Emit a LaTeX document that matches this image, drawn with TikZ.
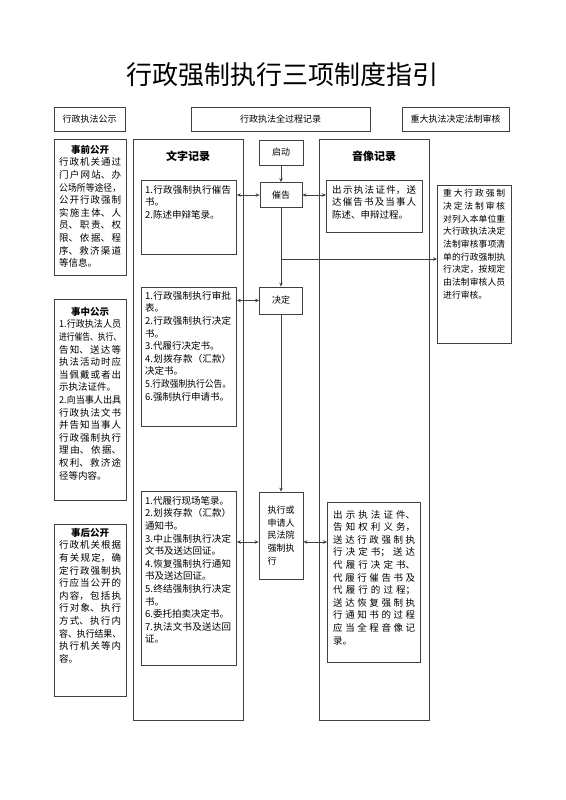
\documentclass[tikz,border=0pt]{standalone}
\usepackage{fontspec}
\setmainfont{Noto Sans CJK SC}
\usepackage{graphicx}
\usetikzlibrary{arrows.meta}
\XeTeXlinebreaklocale "zh"
\XeTeXlinebreakskip=0pt plus 1pt minus 0.3pt
\hbadness=10000
\colorlet{lineGray}{black!75}
\newcommand\jbr{\linebreak}
\newcommand\lbr{\newline}
\newcommand\sqz[1]{\resizebox{\linewidth}{\height}{#1}}

\begin{document}
\begin{tikzpicture}[x=1pt, y=-1pt, font=\fontsize{9.5}{12.6}\selectfont,
    box/.style={draw=lineGray, line width=0.8pt, inner sep=0pt},
    frame/.style 2 args={box, anchor=north west, minimum width=#1, minimum height=#2},
    txt/.style={inner sep=0pt, anchor=north west, align=justify},
    small/.style={font=\fontsize{9}{11}\selectfont},
    arr/.style={-{Stealth[length=4pt,width=3.5pt]}, draw=lineGray, line width=0.7pt},
    dbl/.style={{Stealth[length=4pt,width=3.5pt]}-{Stealth[length=4pt,width=3.5pt]}, draw=lineGray, line width=0.7pt}]
		\fill[white] (0,0) rectangle (565,800);
		\useasboundingbox (0,0) rectangle (565,800);
		%%%%%%%%%%%%%
		\node[font=\fontsize{26}{30}\selectfont] (title) at (282.5,75) {行政强制执行三项制度指引};
		\node[box, small, minimum width=71, minimum height=24] (pub) at (89.5,119) {行政执法公示};
		\node[box, small, minimum width=179, minimum height=24] (rec) at (280.5,119) {行政执法全过程记录};
		\node[box, small, minimum width=107, minimum height=24] (rev) at (455.5,119) {重大执法决定法制审核};
		%%%%%%%%%%%%%
		\node[frame={72}{136}] (sq) at (54,139) {};
		\node[txt, text width=62] (sqt) at ([shift={(5,6)}]sq.north west) {{\centering\bfseries 事前公开\par}
行政机关通过\jbr
门户网站、办\jbr
\sqz{公场所等途径，}\jbr
公开行政强制\jbr
实施主体、人\jbr
员、职责、权\jbr
限、依据、程\jbr
序、救济渠道\jbr
等信息。};
		\node[frame={72}{201}] (sz) at (54,299) {};
		\node[txt, text width=62] (szt) at ([shift={(5,8)}]sz.north west) {{\centering\bfseries 事中公示\par}
\sqz{1.行政执法人员}\jbr
\sqz{进行催告、执行、}\jbr
告知、送达等\jbr
执法活动时应\jbr
当佩戴或者出\jbr
示执法证件。\lbr
\sqz{2.向当事人出具}\jbr
行政执法文书\jbr
并告知当事人\jbr
行政强制执行\jbr
理由、依据、\jbr
权利、救济途\jbr
径等内容。};
		\node[frame={72}{172}] (sh) at (54,524) {};
		\node[txt, text width=62] (sht) at ([shift={(5,4)}]sh.north west) {{\centering\bfseries 事后公开\par}
行政机关根据\jbr
有关规定，确\jbr
定行政强制执\jbr
行应当公开的\jbr
内容，包括执\jbr
行对象、执行\jbr
方式、执行内\jbr
\sqz{容、执行结果、}\jbr
执行机关等内\jbr
容。};
		%%%%%%%%%%%%%
		\node[frame={110}{581}] (wzcol) at (133,139) {};
		\node[frame={110}{581}] (yxcol) at (319,139) {};
		\node[font=\fontsize{11}{13}\selectfont\bfseries] (wzh) at (188,156) {文字记录};
		\node[font=\fontsize{11}{13}\selectfont\bfseries] (yxh) at (374,156) {音像记录};
		%%%%%%%%%%%%%
		\node[box, small, minimum width=44, minimum height=25] (qd) at (281,152.5) {启动};
		\node[box, small, minimum width=42, minimum height=25] (cg) at (281,195) {催告};
		\node[box, small, minimum width=43, minimum height=27] (jd) at (281,300.5) {决定};
		\node[box, font=\fontsize{9}{12.7}\selectfont, align=left, minimum width=44, minimum height=87] (zx) at (281,535.5) {执行或\\申请人\\民法院\\强制执\\行};
		%%%%%%%%%%%%%
		\node[frame={95}{74}] (wz1) at (141,180) {};
		\node[txt, text width=86] (wz1t) at ([shift={(4,5)}]wz1.north west) {1.行政强制执行催告\jbr
书。\lbr
2.陈述申辩笔录。};
		\node[frame={95}{139}] (wz2) at (141,287) {};
		\node[txt, text width=86] (wz2t) at ([shift={(4,4)}]wz2.north west) {1.行政强制执行审批\jbr
表。\lbr
2.行政强制执行决定\jbr
书。\lbr
3.代履行决定书。\lbr
4.划拨存款（汇款）\jbr
决定书。\lbr
\sqz{5.行政强制执行公告。}\lbr
6.强制执行申请书。};
		\node[frame={95}{174}] (wz3) at (141,491) {};
		\node[txt, text width=86] (wz3t) at ([shift={(4,5)}]wz3.north west) {1.代履行现场笔录。\lbr
2.划拨存款（汇款）\jbr
通知书。\lbr
3.中止强制执行决定\jbr
文书及送达回证。\lbr
4.恢复强制执行通知\jbr
书及送达回证。\lbr
5.终结强制执行决定\jbr
书。\lbr
6.委托拍卖决定书。\lbr
7.执法文书及送达回\jbr
证。};
		\node[frame={96}{52}] (yx1) at (326,180) {};
		\node[txt, text width=84] (yx1t) at ([shift={(6,5)}]yx1.north west) {出示执法证件，送\jbr
达催告书及当事人\jbr
陈述、申辩过程。};
		\node[frame={93}{160}] (yx3) at (327,502) {};
		\node[txt, text width=82] (yx3t) at ([shift={(6,8)}]yx3.north west) {出示执法证件、\jbr
告知权利义务，\jbr
送达行政强制执\jbr
行决定书；送达\jbr
代履行决定书、\jbr
代履行催告书及\jbr
代履行的过程；\jbr
送达恢复强制执\jbr
行通知书的过程\jbr
应当全程音像记\jbr
录。};
		\node[frame={74}{158}] (rv) at (437,185) {};
		\node[txt, text width=62, font=\fontsize{8.8}{12.7}\selectfont] (rvt) at ([shift={(6,4)}]rv.north west) {重大行政强制\jbr
决定法制审核\jbr
对列入本单位重\jbr
大行政执法决定\jbr
法制审核事项清\jbr
单的行政强制执\jbr
行决定，按规定\jbr
由法制审核人员\jbr
进行审核。};
		%%%%%%%%%%%%%
		\coordinate (br) at (281,259);
		\coordinate (zxm) at (281,542);
		\draw[arr] (qd) to (cg); \draw[arr] (cg) to (jd); \draw[arr] (jd) to (zx);
		\draw[arr] (br) to (br -| rv.west);
		\draw[dbl] (cg.west -| wz1.east) to (cg.west); \draw[dbl] (cg.east) to (cg.east -| yx1.west);
		\draw[dbl] (jd.west -| wz2.east) to (jd.west);
		\draw[dbl] (zxm -| wz3.east) to (zxm -| zx.west); \draw[dbl] (zxm -| zx.east) to (zxm -| yx3.west);
\end{tikzpicture}
\end{document}
